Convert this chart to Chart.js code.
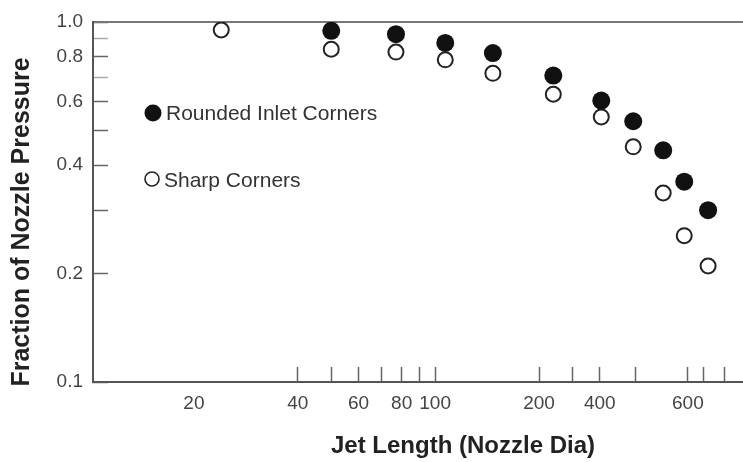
<!DOCTYPE html>
<html>
<head>
<meta charset="utf-8">
<script src="https://cdn.jsdelivr.net/npm/chart.js@4/dist/chart.umd.min.js"></script>
<style>
  html, body { margin: 0; padding: 0; background: #fff; }
</style>
</head>
<body>
<canvas id="myChart" width="743" height="462"></canvas>
<script>
const jetLength = [24, 50, 77, 107, 147, 220, 303, 375, 458, 527, 618];
const roundedInlet = [null, 0.945, 0.925, 0.875, 0.82, 0.71, 0.605, 0.53, 0.44, 0.36, 0.30];
const sharpCorners = [0.95, 0.84, 0.825, 0.785, 0.72, 0.63, 0.545, 0.45, 0.335, 0.255, 0.21];

// tick positions and the labels printed at them (as in the original figure)
const xTickValues = [20, 40, 50, 60, 70, 80, 90, 100, 200, 250, 300, 380, 540, 600, 690];
const xTickLabels = ['20', '40', '', '60', '', '80', '', '100', '200', '', '400', '', '600', '', ''];
const yTickValues = [0.1, 0.2, 0.3, 0.4, 0.5, 0.6, 0.7, 0.8, 0.9, 1.0];
const yTickLabels = ['0.1', '0.2', '', '0.4', '', '0.6', '', '0.8', '', '1.0'];

Chart.defaults.font.family = "'Liberation Sans', Arial, Helvetica, sans-serif";

function points(values) {
    return jetLength
        .map((x, i) => ({ x: x, y: values[i] }))
        .filter(p => p.y !== null);
}

// legend inside the plot + the two axis titles
const extras = {
    id: 'extras',
    afterDraw(chart) {
        const ctx = chart.ctx;
        ctx.save();
        // legend
        ctx.font = "21px 'Liberation Sans', Arial, sans-serif";
        ctx.textBaseline = 'middle';
        ctx.textAlign = 'left';

        ctx.beginPath();
        ctx.arc(153, 113, 8.5, 0, Math.PI * 2);
        ctx.fillStyle = '#111';
        ctx.fill();
        ctx.fillStyle = '#333';
        ctx.fillText(chart.data.datasets[0].label, 166, 114);

        ctx.beginPath();
        ctx.arc(152, 179, 7, 0, Math.PI * 2);
        ctx.lineWidth = 1.6;
        ctx.strokeStyle = '#222';
        ctx.stroke();
        ctx.fillText(chart.data.datasets[1].label, 164, 181);

        // axis titles
        ctx.font = "bold 24px 'Liberation Sans', Arial, sans-serif";
        ctx.fillStyle = '#222';
        ctx.textAlign = 'center';
        ctx.fillText('Jet Length (Nozzle Dia)', 463, 446);

        ctx.font = "bold 25px 'Liberation Sans', Arial, sans-serif";
        ctx.translate(22, 222);
        ctx.rotate(-Math.PI / 2);
        ctx.fillText('Fraction of Nozzle Pressure', 0, 0);
        ctx.restore();
    }
};

const ctx = document.getElementById('myChart');
const myChart = new Chart(ctx, {
    type: 'scatter',
    data: {
        datasets: [{
            label: 'Rounded Inlet Corners',
            data: points(roundedInlet),
            pointRadius: 9,
            pointHoverRadius: 9,
            pointBackgroundColor: '#111',
            pointBorderWidth: 0
        }, {
            label: 'Sharp Corners',
            data: points(sharpCorners),
            pointRadius: 7.5,
            pointHoverRadius: 7.5,
            pointBackgroundColor: '#fff',
            pointBorderColor: '#222',
            pointBorderWidth: 2
        }]
    },
    options: {
        responsive: false,
        animation: false,
        layout: { padding: 0, autoPadding: false },
        plugins: {
            legend: { display: false },
            tooltip: { enabled: false }
        },
        scales: {
            x: {
                type: 'logarithmic',
                position: 'bottom',
                min: 10.2,
                max: 780,
                afterBuildTicks: scale => {
                    scale.ticks = xTickValues.map(v => ({ value: v }));
                },
                afterFit: scale => {
                    scale.height = 80;
                    scale.paddingLeft = 0;
                    scale.paddingRight = 0;
                },
                ticks: {
                    autoSkip: false,
                    maxRotation: 0,
                    padding: 25,
                    color: '#444',
                    font: { size: 19 },
                    callback: (value, index) => xTickLabels[index]
                },
                grid: {
                    drawOnChartArea: false,
                    tickLength: -15,   // ticks point into the plot
                    tickWidth: 1.5,
                    // no tick mark under the "20" label
                    tickColor: c => (c.index === 0 ? 'rgba(0,0,0,0)' : '#666')
                },
                border: { color: '#555', width: 2 }
            },
            x2: {
                type: 'linear',
                position: 'top',
                display: true,
                afterFit: scale => {
                    scale.height = 22;
                    scale.paddingLeft = 0;
                    scale.paddingRight = 0;
                },
                ticks: { display: false },
                grid: { display: false, drawTicks: false },
                border: { color: '#777', width: 2 }
            },
            y: {
                type: 'logarithmic',
                min: 0.1,
                max: 1.0,
                afterBuildTicks: scale => {
                    scale.ticks = yTickValues.map(v => ({ value: v }));
                },
                afterFit: scale => {
                    scale.width = 93;
                    scale.paddingTop = 0;
                    scale.paddingBottom = 0;
                },
                ticks: {
                    autoSkip: false,
                    padding: 25,
                    color: '#444',
                    font: { size: 19 },
                    callback: (value, index) => yTickLabels[index]
                },
                grid: {
                    drawOnChartArea: false,
                    tickLength: -15,
                    tickWidth: 1.5,
                    tickColor: c => (c.tick && (c.tick.value === 0.9 || c.tick.value === 0.7) ? '#aaa' : '#666')
                },
                border: { color: '#555', width: 2 }
            }
        }
    },
    plugins: [extras]
});
</script>
</body>
</html>
